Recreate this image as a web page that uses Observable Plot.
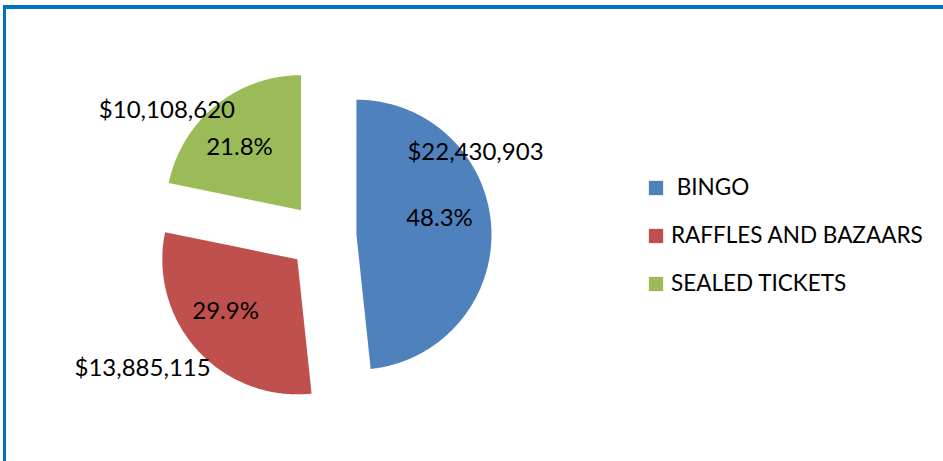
<!DOCTYPE html>
<html>
<head>
<meta charset="utf-8">
<script src="https://cdn.jsdelivr.net/npm/d3@7"></script>
<script src="https://cdn.jsdelivr.net/npm/@observablehq/plot@0.6"></script>
<style>
  html, body { margin: 0; padding: 0; background: #fff; }
  #wrap { position: relative; width: 943px; height: 461px; overflow: hidden; }
  #frame { position: absolute; left: 3px; top: 5px; right: -10px; bottom: -10px;
           border-top: 4px solid #0070C0; border-left: 3px solid #0070C0; pointer-events: none; }
  #wrap svg text { white-space: pre; }
</style>
</head>
<body>
<div id="wrap"><div id="frame"></div></div>
<script>
// ---- data ----
const categories = [" BINGO", "RAFFLES AND BAZAARS", "SEALED TICKETS"];
const amounts = [22430903, 13885115, 10108620];
const colors = ["#4F81BD", "#C0504D", "#9BBB59"];

// ---- layout (pixels) ----
const W = 943, H = 461;
const cx = 322, cy = 236, R = 135, explode = 34;
// label spots relative to each slice apex: [angle deg clockwise from top, distance px]
const pctSpots = [[78.6, 84.7], [234.3, 88.4], [315.7, 88.1]];
const valSpots = [[55.4, 144.6], [234.8, 189.4], [306.6, 167.0]];
const legendX = 655.5, legendY0 = 187.5, legendStep = 48;

const total = d3.sum(amounts);
const arcs = d3.pie().sort(null).value(d => d)(amounts);
const dir = a => [Math.sin(a), -Math.cos(a)];

const polys = [];
const apexes = [];
arcs.forEach((a, i) => {
  const mid = (a.startAngle + a.endAngle) / 2;
  const [dx, dy] = dir(mid);
  const ax = cx + explode * dx, ay = cy + explode * dy;
  apexes.push([ax, ay]);
  polys.push({cat: categories[i], x: ax, y: ay});
  const n = Math.max(2, Math.ceil((a.endAngle - a.startAngle) / (Math.PI / 360)));
  for (let k = 0; k <= n; k++) {
    const t = a.startAngle + (a.endAngle - a.startAngle) * k / n;
    const [ux, uy] = dir(t);
    polys.push({cat: categories[i], x: ax + R * ux, y: ay + R * uy});
  }
});

const fmtMoney = v => "$" + d3.format(",")(v);
const pctLabels = amounts.map((v, i) => {
  const [ang, dist] = pctSpots[i];
  const [ux, uy] = dir(ang * Math.PI / 180);
  return {x: apexes[i][0] + dist * ux, y: apexes[i][1] + dist * uy, text: (v / total * 100).toFixed(1) + "%"};
});
const valLabels = amounts.map((v, i) => {
  const [ang, dist] = valSpots[i];
  const [ux, uy] = dir(ang * Math.PI / 180);
  return {x: apexes[i][0] + dist * ux, y: apexes[i][1] + dist * uy, text: fmtMoney(v)};
});
const legend = categories.map((c, i) => ({cat: c, x: legendX, y: legendY0 + i * legendStep}));

const font = "Lato, 'Open Sans', sans-serif";
const chart = Plot.plot({
  width: W, height: H,
  margin: 0,
  style: {fontFamily: font, background: "transparent"},
  x: {domain: [0, W], range: [0, W], axis: null},
  y: {domain: [0, H], range: [0, H], axis: null},
  color: {domain: categories, range: colors},
  marks: [
    Plot.line(polys, {x: "x", y: "y", z: "cat", fill: "cat", stroke: null, curve: "linear-closed"}),
    Plot.text(pctLabels, {x: "x", y: "y", text: "text", fontSize: 24, fill: "#000", textAnchor: "middle", lineAnchor: "middle"}),
    Plot.text(valLabels, {x: "x", y: "y", text: "text", fontSize: 24, fill: "#000", textAnchor: "middle", lineAnchor: "middle"}),
    Plot.dot(legend, {x: "x", y: "y", fill: "cat", symbol: "square", r: 14.3 / Math.sqrt(Math.PI), stroke: null}),
    Plot.text(legend, {x: d => d.x + 15, y: "y", text: "cat", fontSize: 22.5, fill: "#000", textAnchor: "start", lineAnchor: "middle"})
  ]
});
document.getElementById("wrap").prepend(chart);
chart.style.position = "absolute";
chart.style.left = "0";
chart.style.top = "0";
</script>
</body>
</html>
